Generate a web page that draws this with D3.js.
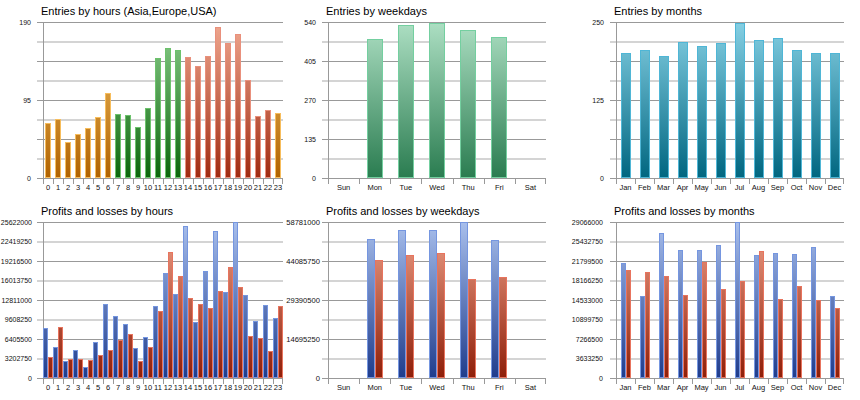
<!DOCTYPE html>
<html>
<head>
<meta charset="utf-8">
<script src="https://cdn.jsdelivr.net/npm/d3@7"></script>
<style>
html,body{margin:0;padding:0;background:#fff;}
svg{display:block;font-family:"Liberation Sans",Arial,sans-serif;}
</style>
</head>
<body>
<svg id="chart" width="860" height="400"></svg>
<script>
// ---------- DATA ----------
const hours = ["0","1","2","3","4","5","6","7","8","9","10","11","12","13","14","15","16","17","18","19","20","21","22","23"];
const entriesByHour = [67,72,44,53,61,74,103,78,77,62,85,146,158,156,147,136,149,184,165,175,119,76,83,79];
const hourRegion = ["asia","asia","asia","asia","asia","asia","asia","europe","europe","europe","europe","europe","europe","europe","usa","usa","usa","usa","usa","usa","usa","usa","usa","asia"];
const hourEntryTicks = [0,95,190];

const weekdays = ["Sun","Mon","Tue","Wed","Thu","Fri","Sat"];
const entriesByWeekday = [null,481,531,538,514,487,null];
const weekdayEntryTicks = [0,135,270,405,540];

const months = ["Jan","Feb","Mar","Apr","May","Jun","Jul","Aug","Sep","Oct","Nov","Dec"];
const entriesByMonth = [201,205,195,218,211,217,248,221,225,205,201,201];
const monthEntryTicks = [0,125,250];

const profitsByHour = [8157000,5090000,2790000,4650000,1810000,5860000,12100000,10240000,8870000,4870000,6790000,11830000,17300000,13800000,24960000,9200000,17570000,24140000,14180000,25622000,13580000,9360000,11990000,9850000];
const lossesByHour  = [3449000,8430000,3120000,3070000,3010000,3780000,4600000,6190000,7280000,2790000,5100000,11000000,20690000,16750000,13140000,12210000,11440000,14340000,18290000,15000000,6950000,6620000,4380000,11880000];
const hourMoneyTicks = [0,3202750,6405500,9608250,12811000,16013750,19216500,22419250,25622000];

const profitsByWeekday = [null,52370000,55890000,55640000,58781000,52000000,null];
const lossesByWeekday  = [null,44590000,46350000,47100000,37430000,38060000,null];
const weekdayMoneyTicks = [0,14695250,29390500,44085750,58781000];

const profitsByMonth = [21490000,15340000,27080000,23790000,23910000,24840000,29066000,22860000,23230000,23040000,24470000,15340000];
const lossesByMonth  = [20180000,19810000,19070000,15460000,21550000,16580000,18070000,23720000,14780000,17140000,14470000,13040000];
const monthMoneyTicks = [0,3633250,7266500,10899750,14533000,18166250,21799500,25432750,29066000];

// ---------- STYLE ----------
const palette = {
  asia:    {top:"#f6c66a", bot:"#b06200", stroke:"#f7bd5c"},
  europe:  {top:"#8fd08f", bot:"#0b660b", stroke:"#6cc26c"},
  usa:     {top:"#f0a890", bot:"#a02a10", stroke:"#e9907c"},
  wk:      {top:"#addfc3", bot:"#2a7c50", stroke:"#74cfa0"},
  mo:      {top:"#86d0e4", bot:"#006680", stroke:"#4fb6d6"},
  profit:  {top:"#a8bfec", bot:"#1f3c8c", stroke:"#7596e0"},
  loss:    {top:"#f0a48c", bot:"#8e1e08", stroke:"#e8745e"}
};

const svg = d3.select("#chart");
const defs = svg.append("defs");
let gradId = 0;
function gradient(key, yTop, yBot){
  const id = "g" + (gradId++);
  const g = defs.append("linearGradient").attr("id", id)
    .attr("gradientUnits","userSpaceOnUse")
    .attr("x1",0).attr("x2",0).attr("y1",yTop).attr("y2",yBot);
  g.append("stop").attr("offset","0%").attr("stop-color",palette[key].top);
  g.append("stop").attr("offset","100%").attr("stop-color",palette[key].bot);
  return "url(#"+id+")";
}

function panel(o){
  const g = svg.append("g");
  const x = d3.scaleBand().domain(o.cats).range([o.x0,o.x1]).padding(0);
  const y = d3.scaleLinear().domain([0,o.yMax]).range([o.y1,o.y0]);

  // grid lines: 8 intervals, dark on even, light on odd
  const gridVals = d3.range(9).map(i => o.yMax*i/8);
  gridVals.forEach((v,i)=>{
    const yy = Math.round(y(v));
    if(i%2===1){
      g.append("line").attr("x1",o.x0-6).attr("x2",o.x1)
       .attr("y1",yy).attr("y2",yy).attr("stroke","#d4d4d4").attr("stroke-width",2);
    }
  });
  gridVals.forEach((v,i)=>{
    const yy = Math.round(y(v))+0.5;
    if(i%2===0){
      g.append("line").attr("x1",o.x0-6).attr("x2",o.x1)
       .attr("y1",yy).attr("y2",yy).attr("stroke","#999999").attr("stroke-width",1);
    }
  });
  // vertical axis line
  g.append("line").attr("x1",o.x0+0.5).attr("x2",o.x0+0.5)
   .attr("y1",Math.round(o.y0)).attr("y2",Math.round(o.y1)+6).attr("stroke","#999999");
  // x boundary ticks
  o.cats.forEach((c,i)=>{
    if(i===0) return;
    const xx = Math.round(x(c))+0.5;
    g.append("line").attr("x1",xx).attr("x2",xx)
     .attr("y1",Math.round(o.y1)).attr("y2",Math.round(o.y1)+6).attr("stroke","#999999");
  });
  {
    const xx = Math.round(o.x1)-0.5;
    g.append("line").attr("x1",xx).attr("x2",xx)
     .attr("y1",Math.round(o.y1)).attr("y2",Math.round(o.y1)+6).attr("stroke","#999999");
  }

  // y labels
  const ya = g.append("g").attr("transform","translate("+o.x0+",0)")
    .call(d3.axisLeft(y).tickValues(o.ticks).tickSize(0).tickPadding(o.yPad||12).tickFormat(d3.format("d")));
  ya.select(".domain").remove();
  ya.selectAll("text").attr("font-size",o.yFont||7).attr("fill","#111")
    .attr("font-family","'Liberation Sans',Arial,sans-serif");

  // x labels
  const xa = g.append("g").attr("transform","translate(0,"+o.y1+")")
    .call(d3.axisBottom(x).tickSize(0).tickPadding(7));
  xa.select(".domain").remove();
  xa.selectAll("text").attr("font-size",7.5).attr("fill","#111")
    .attr("font-family","'Liberation Sans',Arial,sans-serif");

  // bars
  const groupW = x.bandwidth()*o.groupFrac;
  const n = o.series.length;
  const sub = d3.scaleBand().domain(d3.range(n)).range([0,groupW]).padding(0);
  o.series.forEach((s,si)=>{
    const grads = {};
    s.values.forEach((v,i)=>{
      if(v===null || v===undefined) return;
      const key = s.colorKey(i);
      if(!grads[key]) grads[key] = gradient(key,o.y0,o.y1);
      const bx = x(o.cats[i]) + (x.bandwidth()-groupW)/2 + sub(si) + (o.shift||0);
      const by = y(v);
      g.append("rect")
        .attr("x",Math.round(bx)+0.5).attr("y",Math.round(by)+0.5)
        .attr("width",Math.max(1,Math.round(sub.bandwidth())-1))
        .attr("height",Math.max(0,Math.round(y(0))-Math.round(by)-1))
        .attr("fill",grads[key]).attr("stroke",palette[key].stroke).attr("stroke-width",1);
    });
  });

  // title
  g.append("text").attr("x",o.x0-2).attr("y",o.y0-7)
    .attr("font-size",11).attr("fill","#000").text(o.title);
}

const top0 = 22, top1 = 178, bot0 = 222, bot1 = 378;
const cols = [[43,283],[328,546],[616,844]];

panel({title:"Entries by hours (Asia,Europe,USA)", cats:hours, x0:cols[0][0], x1:cols[0][1], y0:top0, y1:top1,
  yMax:190, ticks:hourEntryTicks, groupFrac:0.6, shift:-0.5,
  series:[{values:entriesByHour, colorKey:i=>hourRegion[i]}]});
panel({title:"Entries by weekdays", cats:weekdays, x0:cols[1][0], x1:cols[1][1], y0:top0, y1:top1,
  yMax:540, ticks:weekdayEntryTicks, groupFrac:0.52,
  series:[{values:entriesByWeekday, colorKey:()=>"wk"}]});
panel({title:"Entries by months", cats:months, x0:cols[2][0], x1:cols[2][1], y0:top0, y1:top1,
  yMax:250, ticks:monthEntryTicks, groupFrac:0.52,
  series:[{values:entriesByMonth, colorKey:()=>"mo"}]});

panel({title:"Profits and losses by hours", cats:hours, x0:cols[0][0], x1:cols[0][1], y0:bot0, y1:bot1,
  yMax:25622000, ticks:hourMoneyTicks, groupFrac:0.92, shift:-0.5, yFont:7, yPad:11,
  series:[{values:profitsByHour, colorKey:()=>"profit"},{values:lossesByHour, colorKey:()=>"loss"}]});
panel({title:"Profits and losses by weekdays", cats:weekdays, x0:cols[1][0], x1:cols[1][1], y0:bot0, y1:bot1,
  yMax:58781000, ticks:weekdayMoneyTicks, groupFrac:0.52, yFont:7.6, yPad:8,
  series:[{values:profitsByWeekday, colorKey:()=>"profit"},{values:lossesByWeekday, colorKey:()=>"loss"}]});
panel({title:"Profits and losses by months", cats:months, x0:cols[2][0], x1:cols[2][1], y0:bot0, y1:bot1,
  yMax:29066000, ticks:monthMoneyTicks, groupFrac:0.52, yFont:7, yPad:13,
  series:[{values:profitsByMonth, colorKey:()=>"profit"},{values:lossesByMonth, colorKey:()=>"loss"}]});
</script>
</body>
</html>
